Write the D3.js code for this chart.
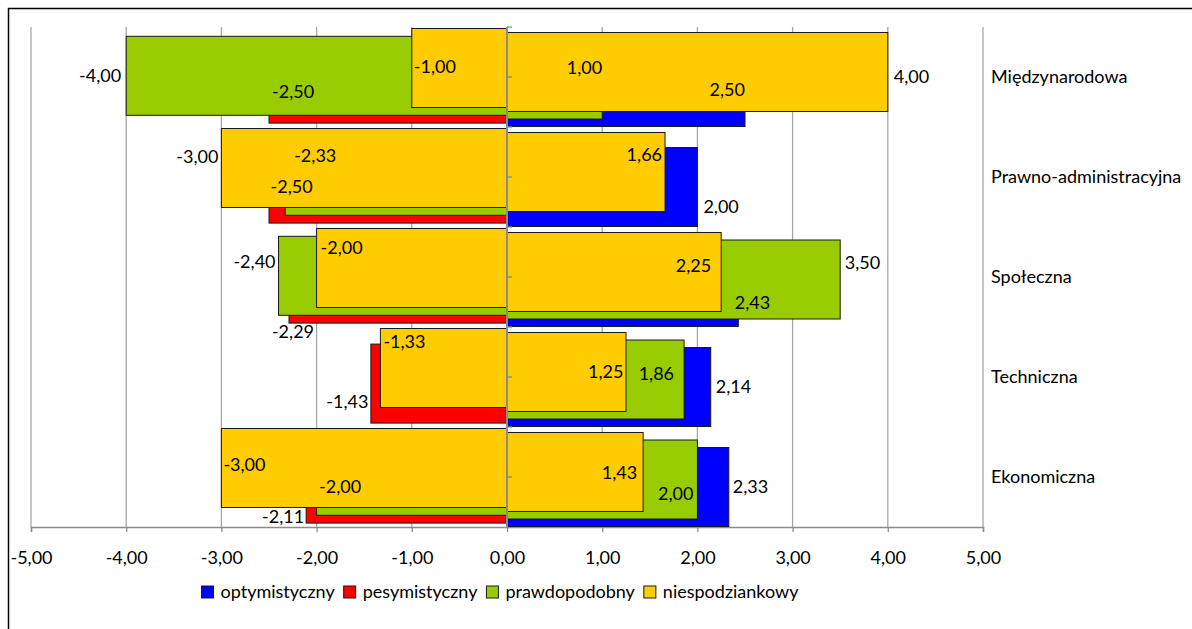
<!DOCTYPE html>
<html>
<head>
<meta charset="utf-8">
<script src="https://cdn.jsdelivr.net/npm/d3@7"></script>
<style>
  body { margin: 0; background: #fff; }
  text { font-family: Lato, "Noto Sans", sans-serif; fill: #000; }
</style>
</head>
<body>
<svg id="chart" width="1192" height="629"></svg>
<script>
// ---- data -------------------------------------------------------------
const categories = ["Międzynarodowa", "Prawno-administracyjna", "Społeczna", "Techniczna", "Ekonomiczna"];
const seriesNames = ["optymistyczny", "pesymistyczny", "prawdopodobny", "niespodziankowy"];
const tickValues = [-5, -4, -3, -2, -1, 0, 1, 2, 3, 4, 5];

const optymistyczny = [2.50, 2.00, 2.43, 2.14, 2.33];
const pesymistyczny = [-2.50, -2.50, -2.29, -1.43, -2.11];
const prawdopodobnyPlus = [1.00, null, 3.50, 1.86, 2.00];
const prawdopodobnyMinus = [-4.00, -2.33, -2.40, null, -2.00];
const niespodziankowyPlus = [4.00, 1.66, 2.25, 1.25, 1.43];
const niespodziankowyMinus = [-1.00, -3.00, -2.00, -1.33, -3.00];

// ---- styling / layout ---------------------------------------------------
const seriesColors = ["#0000ff", "#ff0000", "#99cc00", "#ffcc00"];
const FONT = 18;

// each bar layer: which series, vertical offset inside the category band,
// and per-category label placement [anchor, dx from bar end, y inside band]
const layers = [
  { series: 1, values: pesymistyczny, top: 0.171,
    labels: [["s", 3, 65], ["s", 1.5, 60], ["m", 4, 105], ["e", -2.5, 75], ["e", -2, 89.5]] },
  { series: 0, values: optymistyczny, top: 0.205,
    labels: [["e", 0, 62.5], ["s", 6, 80], ["s", -3.5, 76], ["s", 5, 60], ["s", 4, 60]] },
  { series: 2, values: prawdopodobnyMinus, top: 0.093,
    labels: [["e", -5, 49], ["s", 9, 28.5], ["e", -3, 35], null, ["s", 2.5, 60]] },
  { series: 2, values: prawdopodobnyPlus, top: 0.13,
    labels: [["e", 0, 40.5], null, ["s", 4.5, 35.5], ["e", -10, 46.5], ["e", -4, 66.5]] },
  { series: 3, values: niespodziankowyMinus, top: 0.015,
    labels: [["s", 2, 40], ["e", -3, 30], ["s", 4, 21], ["s", 3, 15], ["s", 2, 37.5]] },
  { series: 3, values: niespodziankowyPlus, top: 0.055,
    labels: [["s", 6, 50], ["e", -3, 27.5], ["e", -10, 38.5], ["e", -2.5, 44.5], ["e", -6, 46]] }
];
const barFrac = 0.79;

const svg = d3.select("#chart");
const fmt = d3.formatLocale({ decimal: ",", thousands: " ", grouping: [3], currency: ["", ""], minus: "-" }).format(".2f");

const x = d3.scaleLinear().domain([-5, 5]).range([31, 983]);
const y = d3.scaleBand().domain(categories).range([27, 527]).paddingInner(0).paddingOuter(0);
const bw = y.bandwidth();

// outer frame
svg.append("rect")
  .attr("x", 8.5).attr("y", 8.5).attr("width", 1200).attr("height", 700)
  .attr("fill", "none").attr("stroke", "#000").attr("stroke-width", 1.5);

// vertical gridlines
svg.append("g").selectAll("line")
  .data(tickValues.filter(t => t !== 0))
  .join("line")
  .attr("x1", d => x(d)).attr("x2", d => x(d))
  .attr("y1", 27).attr("y2", 527)
  .attr("stroke", "#a6a6a6").attr("stroke-width", 1.3);

// value axis along the bottom
const xAxis = svg.append("g").attr("transform", "translate(0,527)")
  .call(d3.axisBottom(x).tickValues(tickValues).tickSize(5).tickPadding(19).tickFormat(fmt));
xAxis.select(".domain").attr("stroke", "#8c8c8c").attr("stroke-width", 1.5);
xAxis.selectAll(".tick line").attr("stroke", "#8c8c8c").attr("stroke-width", 1.3);
xAxis.selectAll(".tick text").attr("font-size", FONT).attr("font-family", "Lato, sans-serif").attr("fill", "#000");

// bars
layers.forEach(layer => {
  const rows = layer.values.map((v, i) => ({ v, c: categories[i] })).filter(d => d.v !== null);
  svg.append("g").selectAll("rect")
    .data(rows)
    .join("rect")
    .attr("x", d => x(Math.min(0, d.v)))
    .attr("width", d => Math.abs(x(d.v) - x(0)))
    .attr("y", d => y(d.c) + layer.top * bw)
    .attr("height", barFrac * bw)
    .attr("fill", seriesColors[layer.series])
    .attr("stroke", "#1a1a1a").attr("stroke-width", 1);
});

// category axis at zero, drawn above the bars
const cAxis = svg.append("g");
cAxis.append("line")
  .attr("x1", x(0)).attr("x2", x(0)).attr("y1", 27).attr("y2", 527)
  .attr("stroke", "#8c8c8c").attr("stroke-width", 2);
const tickYs = categories.flatMap(c => [y(c), y(c) + bw / 2]);
cAxis.selectAll("line.t").data(tickYs).join("line").attr("class", "t")
  .attr("x1", x(0)).attr("x2", x(0) + 5).attr("y1", d => d).attr("y2", d => d)
  .attr("stroke", "#8c8c8c").attr("stroke-width", 1.3);

// category names at the right
svg.append("g").selectAll("text")
  .data(categories)
  .join("text")
  .attr("x", 991)
  .attr("y", d => y(d) + bw / 2)
  .attr("dy", "0.35em")
  .attr("font-size", FONT)
  .text(d => d);

// data labels
layers.forEach(layer => {
  const rows = layer.values.map((v, i) => ({ v, c: categories[i], lab: layer.labels[i] }))
    .filter(d => d.v !== null && d.lab);
  svg.append("g").selectAll("text")
    .data(rows)
    .join("text")
    .attr("x", d => x(d.v) + d.lab[1])
    .attr("y", d => y(d.c) + d.lab[2])
    .attr("dy", "0.35em")
    .attr("text-anchor", d => ({ s: "start", e: "end", m: "middle" })[d.lab[0]])
    .attr("font-size", FONT)
    .text(d => fmt(d.v));
});

// legend
const legend = svg.append("g");
let lx = 0;
seriesNames.forEach((name, i) => {
  const g = legend.append("g");
  g.append("rect").attr("x", 0).attr("y", -6).attr("width", 12).attr("height", 12)
    .attr("fill", seriesColors[i]).attr("stroke", "#1a1a1a").attr("stroke-width", 1);
  const t = g.append("text").attr("x", 19).attr("y", 0).attr("dy", "0.35em")
    .attr("font-size", FONT).text(name);
  const w = 19 + t.node().getComputedTextLength();
  g.attr("transform", `translate(${lx},0)`);
  lx += w + 9;
});
const totalW = lx - 9;
legend.attr("transform", `translate(${500 - totalW / 2},592)`);
</script>
</body>
</html>
